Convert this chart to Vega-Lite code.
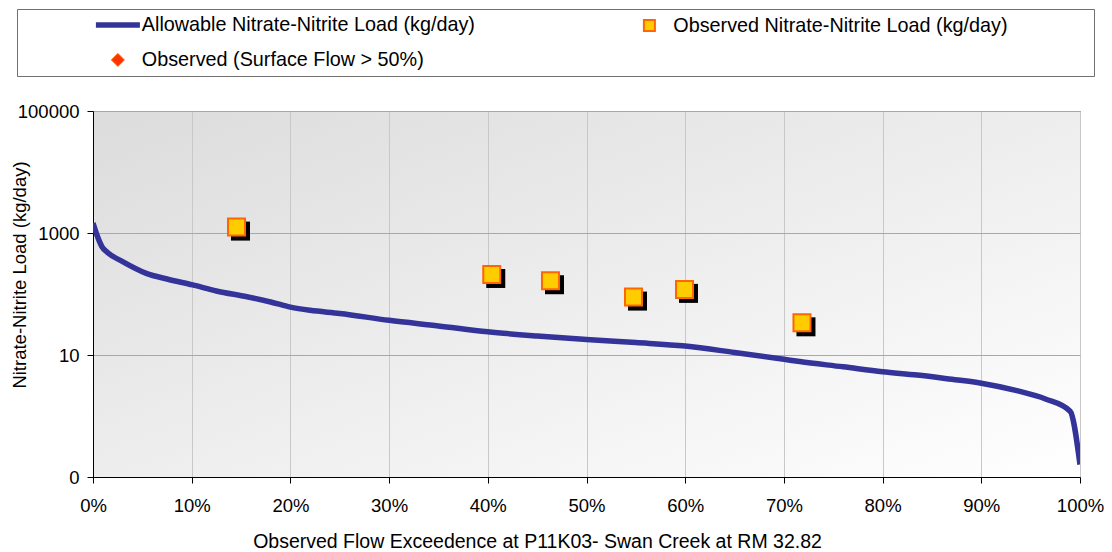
{
  "$schema": "https://vega.github.io/schema/vega-lite/v6.json",
  "width": 987,
  "height": 366,
  "autosize": "none",
  "padding": {"left": 93, "top": 111, "right": 32, "bottom": 75},
  "background": "white",
  "datasets": {
    "allow": [
      {"p": 0, "v": 1450, "s": "Allowable Nitrate-Nitrite Load (kg/day)"},
      {"p": 0.004, "v": 927, "s": "Allowable Nitrate-Nitrite Load (kg/day)"},
      {"p": 0.009, "v": 600, "s": "Allowable Nitrate-Nitrite Load (kg/day)"},
      {"p": 0.015, "v": 475, "s": "Allowable Nitrate-Nitrite Load (kg/day)"},
      {"p": 0.03, "v": 340, "s": "Allowable Nitrate-Nitrite Load (kg/day)"},
      {"p": 0.054, "v": 218, "s": "Allowable Nitrate-Nitrite Load (kg/day)"},
      {"p": 0.075, "v": 176, "s": "Allowable Nitrate-Nitrite Load (kg/day)"},
      {"p": 0.101, "v": 141, "s": "Allowable Nitrate-Nitrite Load (kg/day)"},
      {"p": 0.125, "v": 112, "s": "Allowable Nitrate-Nitrite Load (kg/day)"},
      {"p": 0.156, "v": 90, "s": "Allowable Nitrate-Nitrite Load (kg/day)"},
      {"p": 0.18, "v": 74, "s": "Allowable Nitrate-Nitrite Load (kg/day)"},
      {"p": 0.2, "v": 61, "s": "Allowable Nitrate-Nitrite Load (kg/day)"},
      {"p": 0.22, "v": 54, "s": "Allowable Nitrate-Nitrite Load (kg/day)"},
      {"p": 0.25, "v": 48, "s": "Allowable Nitrate-Nitrite Load (kg/day)"},
      {"p": 0.3, "v": 37, "s": "Allowable Nitrate-Nitrite Load (kg/day)"},
      {"p": 0.35, "v": 30, "s": "Allowable Nitrate-Nitrite Load (kg/day)"},
      {"p": 0.4, "v": 24, "s": "Allowable Nitrate-Nitrite Load (kg/day)"},
      {"p": 0.45, "v": 20.5, "s": "Allowable Nitrate-Nitrite Load (kg/day)"},
      {"p": 0.5, "v": 18, "s": "Allowable Nitrate-Nitrite Load (kg/day)"},
      {"p": 0.55, "v": 16, "s": "Allowable Nitrate-Nitrite Load (kg/day)"},
      {"p": 0.6, "v": 14, "s": "Allowable Nitrate-Nitrite Load (kg/day)"},
      {"p": 0.65, "v": 11, "s": "Allowable Nitrate-Nitrite Load (kg/day)"},
      {"p": 0.7, "v": 8.5, "s": "Allowable Nitrate-Nitrite Load (kg/day)"},
      {"p": 0.716, "v": 7.8, "s": "Allowable Nitrate-Nitrite Load (kg/day)"},
      {"p": 0.76, "v": 6.4, "s": "Allowable Nitrate-Nitrite Load (kg/day)"},
      {"p": 0.8, "v": 5.3, "s": "Allowable Nitrate-Nitrite Load (kg/day)"},
      {"p": 0.835, "v": 4.7, "s": "Allowable Nitrate-Nitrite Load (kg/day)"},
      {"p": 0.87, "v": 4.0, "s": "Allowable Nitrate-Nitrite Load (kg/day)"},
      {"p": 0.9, "v": 3.45, "s": "Allowable Nitrate-Nitrite Load (kg/day)"},
      {"p": 0.936, "v": 2.6, "s": "Allowable Nitrate-Nitrite Load (kg/day)"},
      {"p": 0.965, "v": 1.9, "s": "Allowable Nitrate-Nitrite Load (kg/day)"},
      {"p": 0.99, "v": 1.2, "s": "Allowable Nitrate-Nitrite Load (kg/day)"},
      {"p": 1.0, "v": 0.16, "s": "Allowable Nitrate-Nitrite Load (kg/day)"}
    ],
    "obs": [
      {"p": 0.1454, "v": 1250, "s": "Observed Nitrate-Nitrite Load (kg/day)"},
      {"p": 0.404, "v": 209, "s": "Observed Nitrate-Nitrite Load (kg/day)"},
      {"p": 0.4635, "v": 165, "s": "Observed Nitrate-Nitrite Load (kg/day)"},
      {"p": 0.5476, "v": 89, "s": "Observed Nitrate-Nitrite Load (kg/day)"},
      {"p": 0.5993, "v": 119, "s": "Observed Nitrate-Nitrite Load (kg/day)"},
      {"p": 0.7183, "v": 33.7, "s": "Observed Nitrate-Nitrite Load (kg/day)"}
    ]
  },
  "encoding": {
    "x": {
      "field": "p", "type": "quantitative",
      "scale": {"domain": [0, 1], "nice": false, "zero": false},
      "axis": {
        "values": [0, 0.1, 0.2, 0.3, 0.4, 0.5, 0.6, 0.7, 0.8, 0.9, 1],
        "format": ".0%",
        "labelFlush": false,
        "title": "Observed Flow Exceedence at P11K03- Swan Creek at RM 32.82",
        "titleX": 444, "titleY": 70, "titleBaseline": "alphabetic", "titleAlign": "center",
        "gridColor": "#C8C8C8",
        "labelPadding": 13
      }
    },
    "y": {
      "field": "v", "type": "quantitative",
      "scale": {"type": "log", "domain": [0.1, 100000], "nice": false},
      "axis": {
        "values": [0.1, 10, 1000, 100000],
        "labelExpr": "datum.value < 1 ? '0' : format(datum.value, 'd')",
        "title": "Nitrate-Nitrite Load (kg/day)",
        "titleX": -74, "titleY": 163.5, "titleBaseline": "middle", "titleAlign": "center",
        "titleFontSize": 18.5,
        "gridColor": "#A8A8A8",
        "labelPadding": 8
      }
    }
  },
  "layer": [
    {
      "data": {"name": "allow"},
      "mark": {"type": "line", "strokeWidth": 5.5, "interpolate": "monotone", "clip": true},
      "encoding": {
        "stroke": {
          "field": "s", "type": "nominal",
          "scale": {
            "domain": ["Allowable Nitrate-Nitrite Load (kg/day)", "Observed (Surface Flow > 50%)", "Observed Nitrate-Nitrite Load (kg/day)"],
            "range": ["#333399", "#FF6600", "#FF6600"]
          },
          "legend": {
            "orient": "none", "legendX": -76, "legendY": -102,
            "columns": 2, "columnPadding": 164.5, "rowPadding": 13, "padding": 6,
            "strokeColor": "#707070", "fillColor": "white",
            "title": " ", "titleOrient": "left", "titleFontSize": 10, "titlePadding": 85,
            "symbolSize": 400, "symbolStrokeWidth": 2, "symbolOffset": 0,
            "labelOffset": 14, "labelFontSize": 19.8, "labelColor": "black", "labelLimit": 900,
            "encode": {
              "symbols": {
                "update": {
                  "shape": {"signal": "datum.value == 'Allowable Nitrate-Nitrite Load (kg/day)' ? 'M-2.2,0H2.2' : (datum.value == 'Observed Nitrate-Nitrite Load (kg/day)' ? 'M-1,-1H1V1H-1ZM79,0' : 'diamond')"},
                  "size": {"signal": "datum.value == 'Allowable Nitrate-Nitrite Load (kg/day)' ? 400 : (datum.value == 'Observed Nitrate-Nitrite Load (kg/day)' ? 121 : 169)"},
                  "fill": {"signal": "datum.value == 'Allowable Nitrate-Nitrite Load (kg/day)' ? 'transparent' : (datum.value == 'Observed Nitrate-Nitrite Load (kg/day)' ? '#FFCC00' : '#FF3300')"},
                  "strokeWidth": {"signal": "datum.value == 'Allowable Nitrate-Nitrite Load (kg/day)' ? 5.5 : (datum.value == 'Observed Nitrate-Nitrite Load (kg/day)' ? 2 : 1)"},
                  "opacity": {"value": 1},
                  "fillOpacity": {"value": 1},
                  "strokeOpacity": {"value": 1}
                }
              }
            }
          }
        }
      }
    },
    {
      "data": {"name": "obs"},
      "mark": {"type": "square", "size": 361, "color": "black", "opacity": 1, "xOffset": 4, "yOffset": 4}
    },
    {
      "data": {"name": "obs"},
      "mark": {"type": "square", "size": 289, "filled": true, "fill": "#FFCC00", "opacity": 1, "strokeWidth": 2},
      "encoding": {
        "stroke": {"field": "s", "type": "nominal"}
      }
    }
  ],
  "config": {
    "font": "Liberation Sans",
    "view": {
      "stroke": "#808080",
      "fill": {"gradient": "linear", "x1": 0, "y1": 0, "x2": 1, "y2": 1, "stops": [{"offset": 0, "color": "#DCDCDC"}, {"offset": 1, "color": "#FFFFFF"}]}
    },
    "axis": {
      "labelFont": "Liberation Sans", "titleFont": "Liberation Sans",
      "labelFontSize": 18.5, "titleFontSize": 19.5,
      "labelColor": "black", "titleColor": "black", "titleFontWeight": "normal",
      "domainColor": "black", "tickColor": "black", "tickSize": 6, "domainWidth": 1,
      "grid": true, "gridWidth": 1
    },
    "legend": {"labelFont": "Liberation Sans", "titleFont": "Liberation Sans"}
  }
}
